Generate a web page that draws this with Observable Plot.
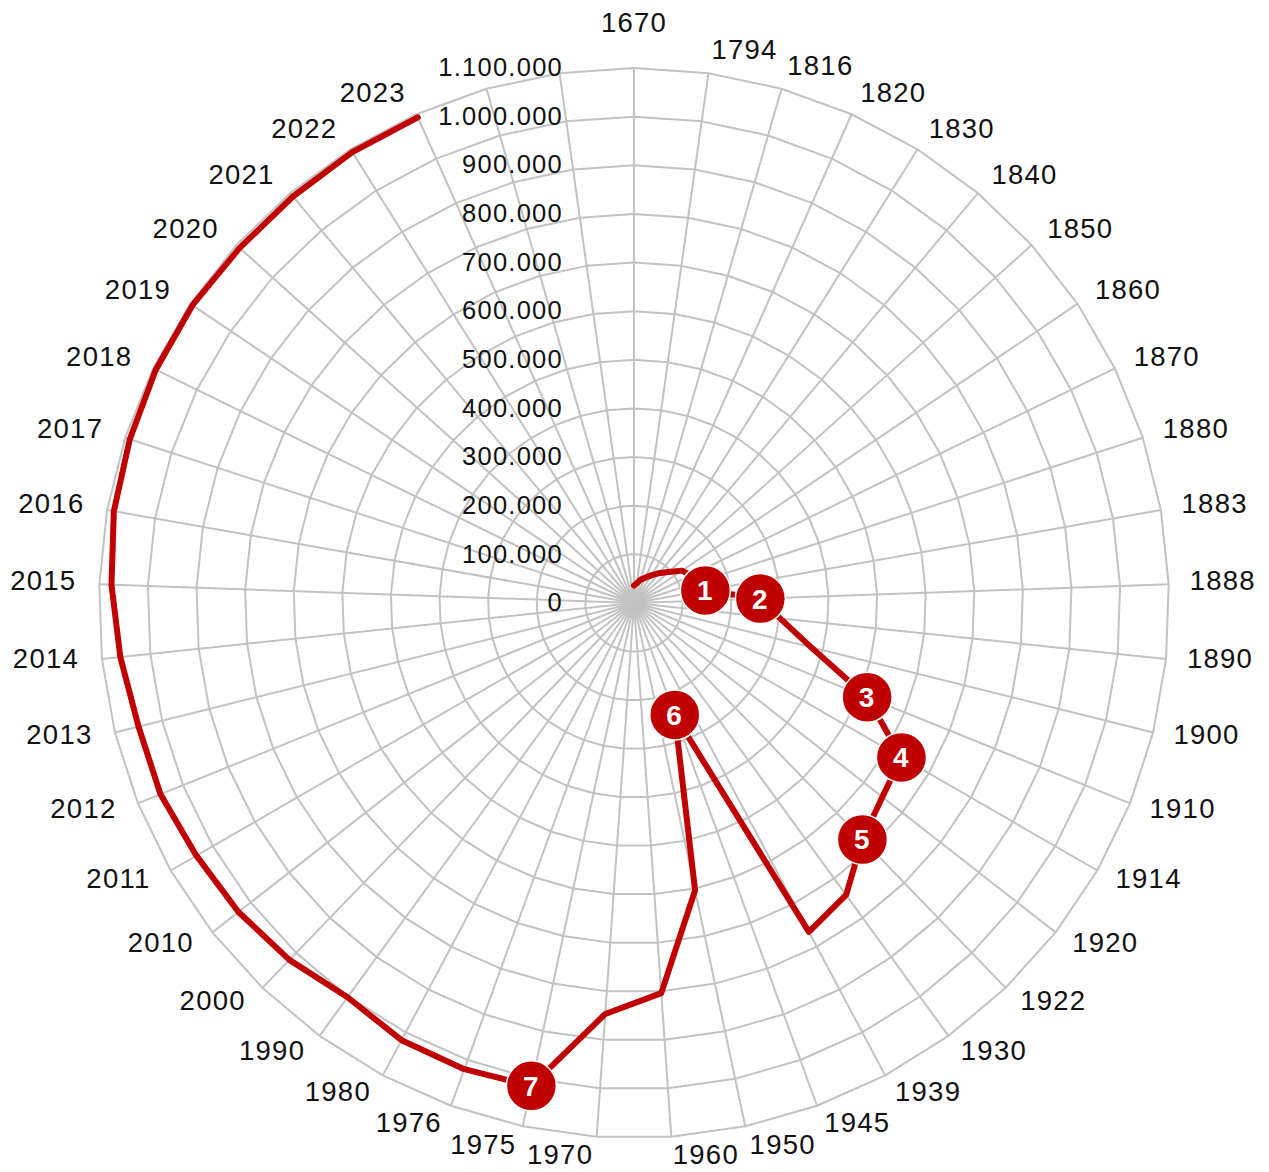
<!DOCTYPE html>
<html>
<head>
<meta charset="utf-8">
<script src="https://cdn.jsdelivr.net/npm/d3@7"></script>
<script src="https://cdn.jsdelivr.net/npm/@observablehq/plot@0.6"></script>
<style>
  html, body { margin: 0; padding: 0; background: #fff; }
  #chart svg text { letter-spacing: 1.25px; }
</style>
</head>
<body>
<div id="chart"></div>
<script>
// ---- data ----
const years = ["1670","1794","1816","1820","1830","1840","1850","1860","1870","1880",
  "1883","1888","1890","1900","1910","1914","1920","1922","1930","1939","1945","1950",
  "1960","1970","1975","1976","1980","1990","2000","2010","2011","2012","2013","2014",
  "2015","2016","2017","2018","2019","2020","2021","2022","2023"];
const emptySlots = ["", ""]; // two unlabeled spokes after 2023
const population = [36000, 41000, 50000, 57000, 67000, 80000, 95000, 119000, 130000, 142000,
  149000, 260000, 302000, 375000, 517000, 635000, 648000, 676000, 742000, 766000, 245000, 604000,
  804000, 847000, 1015000, 1020000, 1018000, 1002000, 1020000, 1032000, 1039000, 1050000, 1050000, 1062000,
  1075000, 1086000, 1090000, 1094000, 1095000, 1091000, 1091000, 1093000, 1093000];
const eventYears = ["1883", "1888", "1910", "1914", "1922", "1945", "1975"];
const eventNumbers = ["1", "2", "3", "4", "5", "6", "7"];
const tickValues = [0, 100000, 200000, 300000, 400000, 500000, 600000, 700000, 800000, 900000, 1000000, 1100000];
const tickLabels = ["0", "100.000", "200.000", "300.000", "400.000", "500.000", "600.000",
  "700.000", "800.000", "900.000", "1.000.000", "1.100.000"];

// ---- geometry helpers (polar -> cartesian in value units) ----
const categories = years.concat(emptySlots);
const n = categories.length;
const rMax = 1100000;
const ang = i => (i * 2 * Math.PI) / n;
const px = (i, v) => v * Math.sin(ang(i));
const py = (i, v) => v * Math.cos(ang(i));

const W = 1269, H = 1172, cx = 633.5, cy = 602.5, rPx = 535;
const k = rMax / rPx;

const spokes = categories.map((c, i) => ({i}));
const rings = [];
tickValues.slice(1).forEach(t => {
  for (let i = 0; i <= n; i++) rings.push({t, i: i % n});
});
const series = population.map((v, i) => ({i, v, year: years[i]}));
const events = eventYears.map((y, j) => {
  const i = years.indexOf(y);
  return {i, v: population[i], label: eventNumbers[j]};
});
const ticks = tickValues.map((t, j) => ({t, label: tickLabels[j]}));
const labelR = rMax * 556 / rPx;
const topLabelR = rMax * 580 / rPx;
const pointLabels = categories.map((c, i) => ({i, c})).filter(d => d.c !== "");
const deg = i => (i * 360) / n;

const font = "'Liberation Sans', Arial, sans-serif";
const grid = "#c2c2c2";
const red = "#c00000";

const chart = Plot.plot({
  width: W,
  height: H,
  margin: 0,
  style: {background: "#fff", fontFamily: font},
  x: {type: "linear", domain: [-cx * k, (W - cx) * k], range: [0, W], axis: null},
  y: {type: "linear", domain: [-(H - cy) * k, cy * k], range: [H, 0], axis: null},
  marks: [
    Plot.link(spokes, {x1: 0, y1: 0, x2: d => px(d.i, rMax), y2: d => py(d.i, rMax), stroke: grid, strokeWidth: 2}),
    Plot.line(rings, {x: d => px(d.i, d.t), y: d => py(d.i, d.t), z: "t", stroke: grid, strokeWidth: 2}),
    Plot.text(ticks, {x: 0, y: "t", text: "label", textAnchor: "end", lineAnchor: "middle", dx: -71, fontSize: 25.5, fill: "#111"}),
    Plot.text(pointLabels.filter(d => d.i === 0), {x: d => px(d.i, topLabelR), y: d => py(d.i, topLabelR), text: "c", textAnchor: "middle", lineAnchor: "middle", fontSize: 27.5, fill: "#111"}),
    Plot.text(pointLabels.filter(d => deg(d.i) > 0 && deg(d.i) < 180), {x: d => px(d.i, labelR), y: d => py(d.i, labelR), text: "c", textAnchor: "start", lineAnchor: "middle", dy: -2, fontSize: 27.5, fill: "#111"}),
    Plot.text(pointLabels.filter(d => deg(d.i) > 180), {x: d => px(d.i, labelR), y: d => py(d.i, labelR), text: "c", textAnchor: "end", lineAnchor: "middle", dx: -2, dy: -2, fontSize: 27.5, fill: "#111"}),
    Plot.line(series, {x: d => px(d.i, d.v), y: d => py(d.i, d.v), stroke: red, strokeWidth: 6, strokeLinejoin: "round", strokeLinecap: "round"}),
    Plot.dot(events, {x: d => px(d.i, d.v), y: d => py(d.i, d.v), r: 25, fill: red, stroke: "#fff", strokeWidth: 1.5}),
    Plot.text(events, {x: d => px(d.i, d.v), y: d => py(d.i, d.v), text: "label", fill: "#fff", fontWeight: "bold", fontSize: 28, lineAnchor: "middle", dy: 1})
  ]
});
document.getElementById("chart").appendChild(chart);
</script>
</body>
</html>
